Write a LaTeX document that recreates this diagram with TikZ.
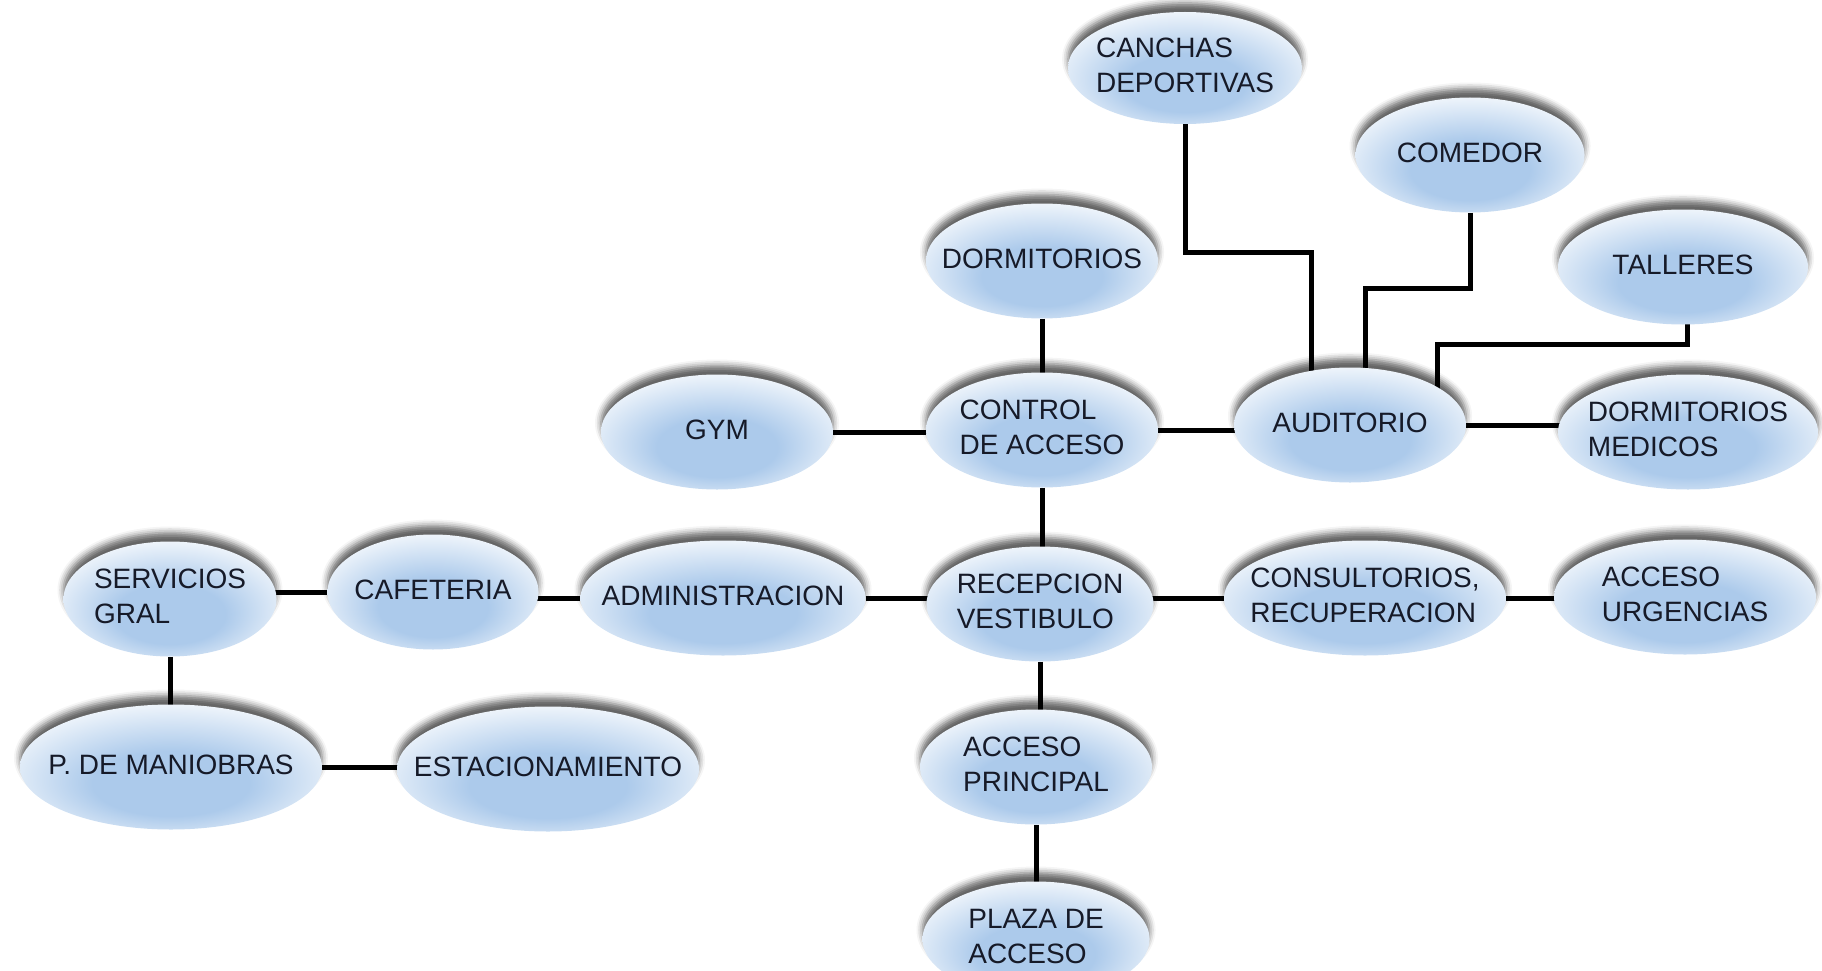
\documentclass[tikz,border=0pt]{standalone}
\usepackage{fontspec}
\setmainfont{Liberation Sans}
\usetikzlibrary{shapes.geometric,shadows.blur}
\definecolor{nodeblue}{RGB}{172,202,235}
\definecolor{txt}{RGB}{22,26,40}
\pgfdeclareradialshading{lensshade}{\pgfpoint{0bp}{-9bp}}{color(0bp)=(nodeblue); color(13bp)=(nodeblue); color(33bp)=(white); color(50bp)=(white)}
\pgfdeclarelayer{back}
\pgfdeclarelayer{bg}
\pgfsetlayers{back,bg,main}
\newcommand{\lbl}[1]{\makebox[0pt]{\begin{tabular}{@{}l@{}}#1\end{tabular}}}
\def\shy{9pt}
\begin{document}
\begin{tikzpicture}[x=1pt,y=-1pt,
  setshy/.code={\def\shy{#1}},
  place/.style={ellipse, shading=lensshade, minimum width=#1, minimum height=115pt,
    inner sep=0pt, text=txt, font=\fontsize{28}{35}\selectfont,
    blur shadow={shadow xshift=0pt, shadow yshift=\shy, shadow blur radius=6pt, shadow opacity=60}},
  place/.default=232pt,
  conn/.style={line width=5pt, black}]
\begin{pgfonlayer}{back}
\fill[white] (0,0) rectangle (1822,971);
\end{pgfonlayer}
\useasboundingbox (0,0) rectangle (1822,971);
% off-page warm-up shadow (outside the bounding box, not visible)
\path[blur shadow={shadow yshift=9pt, shadow blur radius=6pt, shadow opacity=60}] (-400,-400) circle (10pt);

\node[place=229pt] (comedor) at (1470,155) {\lbl{COMEDOR}};
\node[place=234pt, minimum height=112pt] (canchas) at (1185,68) {\lbl{CANCHAS\\DEPORTIVAS}};
\node[place=250pt] (talleres) at (1683,267) {\lbl{TALLERES}};
\node[place] (dorm) at (1042,261) {\lbl{DORMITORIOS}};
\node[place] (gym) at (717,432) {\lbl{GYM}};
\node[place] (control) at (1042,430) {\lbl{CONTROL\\DE ACCESO}};
\node[place] (audit) at (1350,425) {\lbl{AUDITORIO}};
\node[place=260pt] (dormmed) at (1688,432) {\lbl{DORMITORIOS\\MEDICOS}};
\node[place=213pt] (serv) at (170,599) {\lbl{SERVICIOS\\GRAL}};
\node[place=211pt] (caf) at (433,592) {\lbl{CAFETERIA}};
\node[place=285pt] (admin) at (723,598) {\lbl{ADMINISTRACION}};
\node[place=227pt] (recep) at (1040,604) {\lbl{RECEPCION\\VESTIBULO}};
\node[place=282pt] (consult) at (1365,598) {\lbl{CONSULTORIOS,\\RECUPERACION}};
\node[place=262pt] (urg) at (1685,597) {\lbl{ACCESO\\URGENCIAS}};
\node[place=302pt, minimum height=125pt] (mani) at (171,767) {\lbl{P. DE MANIOBRAS}};
\node[place=302pt, minimum height=125pt] (est) at (548,769) {\lbl{ESTACIONAMIENTO}};
\node[place] (ap) at (1036,767) {\lbl{ACCESO\\PRINCIPAL}};
\node[place=227pt] (plaza) at (1036,939) {\lbl{PLAZA DE\\ACCESO}};

\begin{pgfonlayer}{bg}
\draw[conn] (canchas) -- (canchas |- 0,252) -| ([xshift=-39pt]audit.center);
\draw[conn] (comedor) -- (comedor |- 0,288) -| ([xshift=15pt]audit.center);
\draw[conn] ([xshift=4pt]talleres.center) -- ([xshift=4pt]talleres.center |- 0,344) -| ([xshift=87pt]audit.center);
\draw[conn] (dorm) -- (dorm |- control);
\draw[conn] (control) -- (control |- recep);
\draw[conn] (recep) -- (recep |- ap);
\draw[conn] (ap) -- (ap |- plaza);
\draw[conn] (serv) -- (serv |- mani);
\draw[conn] (gym) -- (gym -| control);
\draw[conn] (control) -- (control -| audit);
\draw[conn] (audit) -- (audit -| dormmed);
\draw[conn] (caf) -- (caf -| serv);
\draw[conn] (admin) -- (admin -| caf);
\draw[conn] (admin) -- (admin -| recep);
\draw[conn] (consult) -- (consult -| recep);
\draw[conn] (consult) -- (consult -| urg);
\draw[conn] (mani) -- (mani -| est);
\end{pgfonlayer}
\end{tikzpicture}
\end{document}
